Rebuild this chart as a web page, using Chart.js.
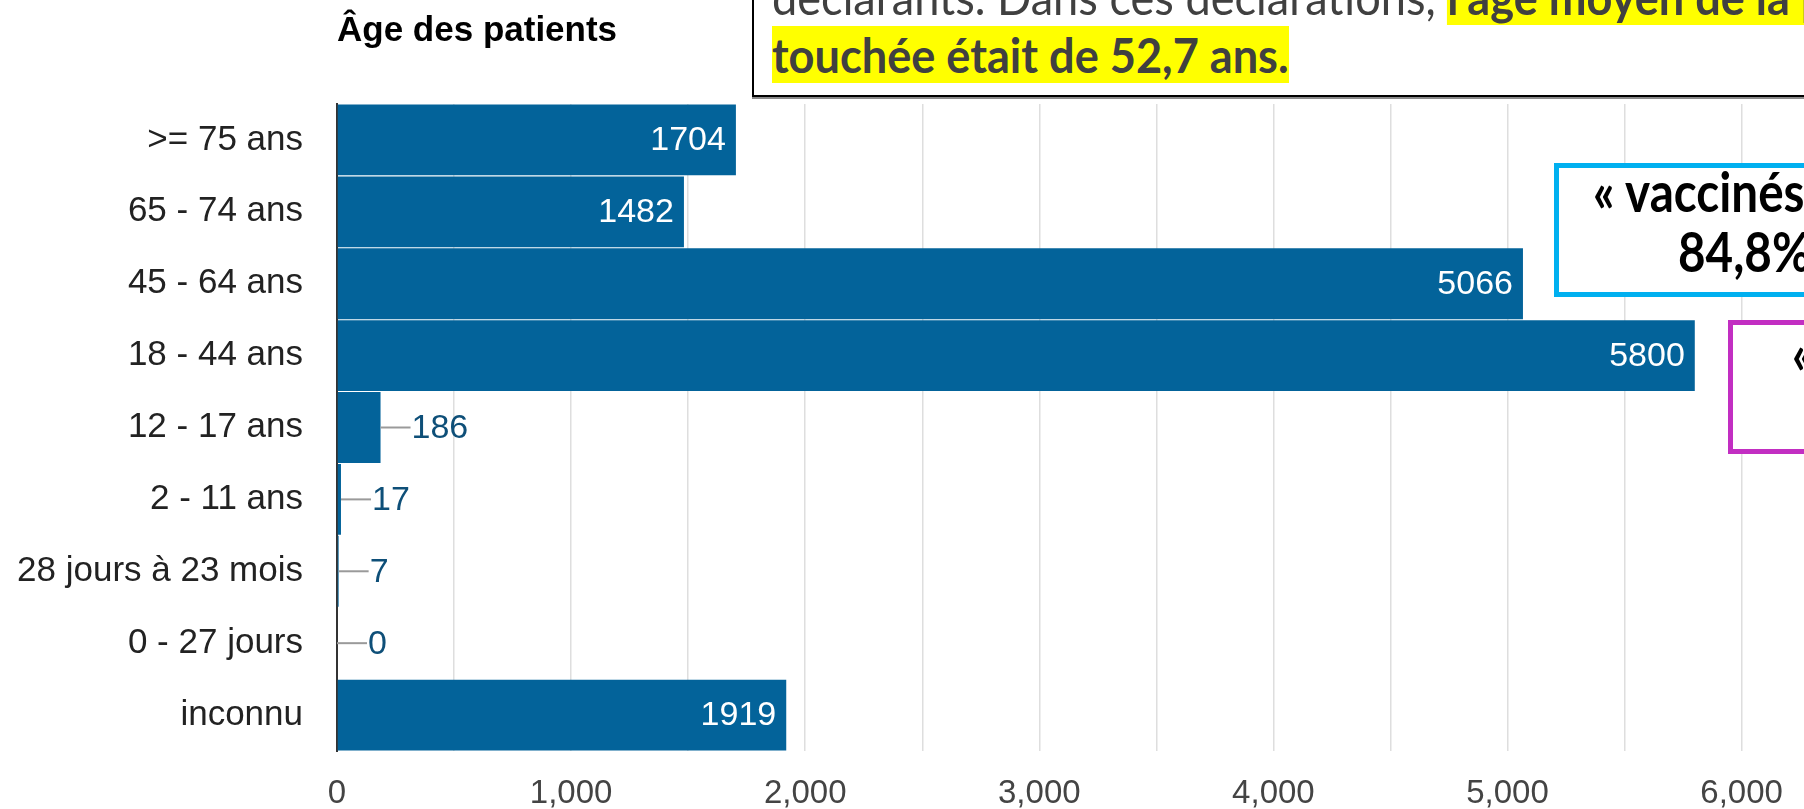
<!DOCTYPE html>
<html lang="fr">
<head>
<meta charset="utf-8">
<title>Âge des patients</title>
<script src="https://cdn.jsdelivr.net/npm/chart.js@4.4.1/dist/chart.umd.min.js"></script>
<style>
  html, body { margin:0; padding:0; background:#fff; }
  body { width:1804px; height:809px; overflow:hidden; position:relative; }
  #wrap { position:absolute; left:0; top:0; width:2040px; height:809px; }
  .note { position:absolute; white-space:nowrap; font-family:Lato, "Open Sans", sans-serif; }
  .hl { background:#ffff00; font-weight:bold; }
  .txt { font-size:48px; line-height:57px; color:#404040; transform:scaleX(0.94); transform-origin:left top; }
  #boxTop { position:absolute; left:752px; top:-40px; width:1200px; height:137px; box-sizing:border-box;
            border:2px solid #000; background:#fff; box-shadow:0 2px 0 #8a8a8a; }
  #boxBlue { position:absolute; left:1554px; top:163px; width:400px; height:134px; box-sizing:border-box;
             border:5px solid #00b0f0; background:#fff; }
  #boxPink { position:absolute; left:1728px; top:320px; width:400px; height:134px; box-sizing:border-box;
             border:5px solid #c22ec2; background:#fff; }
  .big { font-size:56px; font-weight:bold; color:#000; transform:scaleX(0.85); transform-origin:left top; line-height:60px; }
</style>
</head>
<body>
<div id="wrap"><canvas id="chart"></canvas></div>

<div id="boxTop"></div>
<div class="note txt" style="left:772px; top:-32px;">déclarants. Dans ces déclarations, <span class="hl">l'âge moyen de la population</span></div>
<div class="note txt" style="left:772px; top:26px;"><span class="hl">touchée était de 52,7 ans.</span></div>

<div id="boxBlue"></div>
<div class="note big" style="left:1593px; top:161px;">« vaccinés »</div>
<div class="note big" style="left:1678px; top:221px;">84,8%</div>

<div id="boxPink"></div>
<div class="note big" style="left:1792px; top:323px;">«</div>

<script>
// catégories d'âge et nombre de patients
const categories = ['>= 75 ans', '65 - 74 ans', '45 - 64 ans', '18 - 44 ans', '12 - 17 ans',
                    '2 - 11 ans', '28 jours à 23 mois', '0 - 27 jours', 'inconnu'];
const patients = [1704, 1482, 5066, 5800, 186, 17, 7, 0, 1919];

// axe horizontal : grille tous les 500, libellés tous les 1000
const xMin = 0;
const xMax = 7000;
const xStep = 500;
const xLabelEvery = 1000;

const chartTitle = 'Âge des patients';

Chart.defaults.font.family = "'Liberation Sans', Arial, sans-serif";
Chart.defaults.animation = false;

// titre aligné sur le bord gauche de la zone du graphique
const titlePlugin = {
    id: 'leftTitle',
    afterDraw: (chart) => {
        const ctx = chart.ctx;
        ctx.save();
        ctx.font = "bold 35px 'Liberation Sans', Arial, sans-serif";
        ctx.fillStyle = '#000';
        ctx.textAlign = 'left';
        ctx.textBaseline = 'alphabetic';
        ctx.fillText(chartTitle, chart.chartArea.left, 41);
        ctx.restore();
    }
};

// valeurs : dans la barre si elle est assez large, sinon à droite avec un trait
const valuePlugin = {
    id: 'valueLabels',
    afterDatasetsDraw: (chart) => {
        const ctx = chart.ctx;
        const meta = chart.getDatasetMeta(0);
        ctx.save();
        ctx.font = "34px 'Liberation Sans', Arial, sans-serif";
        ctx.textBaseline = 'middle';
        meta.data.forEach((bar, i) => {
            const txt = String(patients[i]);
            const w = ctx.measureText(txt).width;
            const barW = bar.x - bar.base;
            if (barW > w + 22) {
                ctx.fillStyle = '#ffffff';
                ctx.textAlign = 'right';
                ctx.fillText(txt, bar.x - 10, bar.y + 1);
            } else {
                ctx.strokeStyle = '#9a9a9a';
                ctx.lineWidth = 2;
                ctx.beginPath();
                ctx.moveTo(bar.x, bar.y);
                ctx.lineTo(bar.x + 30, bar.y);
                ctx.stroke();
                ctx.fillStyle = '#0e4f78';
                ctx.textAlign = 'left';
                ctx.fillText(txt, bar.x + 31, bar.y + 1);
            }
        });
        ctx.restore();
    }
};

new Chart(document.getElementById('chart'), {
    type: 'bar',
    data: {
        labels: categories,
        datasets: [{
            data: patients,
            backgroundColor: '#03639a',
            borderWidth: 0,
            barPercentage: 1,
            categoryPercentage: 0.985
        }]
    },
    options: {
        indexAxis: 'y',
        responsive: true,
        maintainAspectRatio: false,
        layout: { padding: { top: 104, right: 52, bottom: 0, left: 0 } },
        plugins: { legend: { display: false }, tooltip: { enabled: false } },
        scales: {
            x: {
                min: xMin, max: xMax,
                grid: { color: '#dedede', lineWidth: 1.5, drawTicks: false },
                border: { display: false },
                ticks: {
                    stepSize: xStep,
                    padding: 23,
                    color: '#444',
                    font: { size: 33 },
                    maxRotation: 0,
                    autoSkip: false,
                    callback: (v) => (v % xLabelEvery === 0 ? v.toLocaleString('en-US') : '')
                },
                afterFit: (s) => { s.height = 58; }
            },
            y: {
                grid: { display: false, drawTicks: false },
                border: { display: true, color: '#333', width: 2 },
                ticks: { padding: 34, color: '#222', font: { size: 35 } },
                afterFit: (s) => { s.width = 337; }
            }
        }
    },
    plugins: [titlePlugin, valuePlugin]
});
</script>
</body>
</html>
